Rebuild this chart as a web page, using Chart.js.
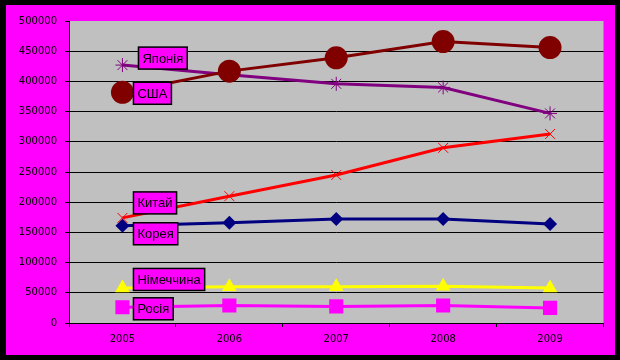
<!DOCTYPE html>
<html>
<head>
<meta charset="utf-8">
<script src="https://cdn.jsdelivr.net/npm/chart.js@4.4.1/dist/chart.umd.min.js"></script>
<style>
  html, body { margin: 0; padding: 0; background: #000; }
  #cadre { position: absolute; left: 6px; top: 5px; width: 609px; height: 350px; background: #ff00ff; }
</style>
</head>
<body>
<div id="cadre"><canvas id="graphique" width="609" height="350"></canvas></div>
<script>
const annees = ['2005', '2006', '2007', '2008', '2009']

const usa = [382000, 417000, 439000, 466000, 456000]
const japonia = [427000, 411000, 396000, 390000, 347000]
const kytai = [174000, 210000, 245000, 290000, 313000]
const koreia = [161000, 166000, 172000, 172000, 164000]
const nimechchyna = [58000, 60000, 60000, 61000, 58000]
const rosiia = [26000, 29000, 27500, 29000, 25000]

// fond gris de la zone de tracé
const fondGris = {
    id: 'fondGris',
    beforeDraw(chart) {
        const a = chart.chartArea
        const ctx = chart.ctx
        ctx.save()
        ctx.fillStyle = '#c0c0c0'
        ctx.fillRect(a.left, a.top, a.right - a.left, a.bottom - a.top)
        ctx.restore()
    }
}

// étiquettes avec le nom de la série près du premier point
const etiquettes = {
    id: 'etiquettes',
    afterDatasetsDraw(chart) {
        const ctx = chart.ctx
        ctx.save()
        ctx.font = '13px "Liberation Sans", Arial, sans-serif'
        ctx.textBaseline = 'middle'
        chart.data.datasets.forEach((ds, i) => {
            const p = chart.getDatasetMeta(i).data[0]
            const w = ctx.measureText(ds.label).width + 8
            const h = 22
            const x = p.x + ds.etiqDx
            const y = p.y + ds.etiqDy - h / 2
            ctx.fillStyle = '#ff00ff'
            ctx.fillRect(x, y, w, h)
            ctx.strokeStyle = '#000'
            ctx.lineWidth = 1.5
            ctx.strokeRect(x, y, w, h)
            ctx.fillStyle = '#000'
            ctx.fillText(ds.label, x + 4, y + h / 2 + 1)
        })
        ctx.restore()
    }
}

function serie(nom, valeurs, couleur, style, rayon, dx, dy) {
    return {
        label: nom,
        data: valeurs,
        borderColor: couleur,
        backgroundColor: couleur,
        borderWidth: 3,
        pointStyle: style,
        pointRadius: rayon,
        pointBorderColor: couleur,
        pointBackgroundColor: couleur,
        pointBorderWidth: (style == 'star' || style == 'crossRot') ? 1 : 0,
        tension: 0,
        etiqDx: dx,
        etiqDy: dy
    }
}

const ctx = document.getElementById('graphique').getContext('2d')
const myChart = new Chart(ctx, {
    type: 'line',
    data: {
        labels: annees,
        datasets: [
            serie('США', usa, '#800000', 'circle', 11.5, 11, 1),
            serie('Японія', japonia, '#800080', 'star', 7, 16, -7),
            serie('Китай', kytai, '#ff0000', 'crossRot', 7, 11, -15),
            serie('Корея', koreia, '#000080', 'rectRot', 7, 11, 8),
            serie('Німеччина', nimechchyna, '#ffff00', 'triangle', 8.5, 11, -8.5),
            serie('Росія', rosiia, '#ff00ff', 'rect', 10, 11, 1.5)
        ]
    },
    options: {
        responsive: false,
        animation: false,
        layout: { padding: { left: 0, top: 16, right: 10, bottom: 0 } },
        plugins: {
            legend: { display: false },
            tooltip: { enabled: false }
        },
        scales: {
            x: {
                offset: true,
                grid: { drawOnChartArea: false, tickLength: 4, tickColor: '#000', offset: true },
                border: { color: '#000', width: 1 },
                ticks: { color: '#000', padding: 6, font: { family: 'DejaVu Sans', size: 10 } },
                afterFit(scale) { scale.height = 32 }
            },
            y: {
                min: 0,
                max: 500000,
                ticks: {
                    stepSize: 50000,
                    color: '#000',
                    padding: 8,
                    font: { family: 'DejaVu Sans', size: 10 },
                    callback: (v) => v.toString()
                },
                grid: {
                    color: (c) => c.tick && c.tick.value == 500000 ? 'rgba(0,0,0,0)' : '#000',
                    tickColor: '#000',
                    tickLength: 4,
                    lineWidth: 1
                },
                border: { color: '#000', width: 1 },
                afterFit(scale) { scale.width = 63 }
            }
        }
    },
    plugins: [fondGris, etiquettes]
})
</script>
</body>
</html>
